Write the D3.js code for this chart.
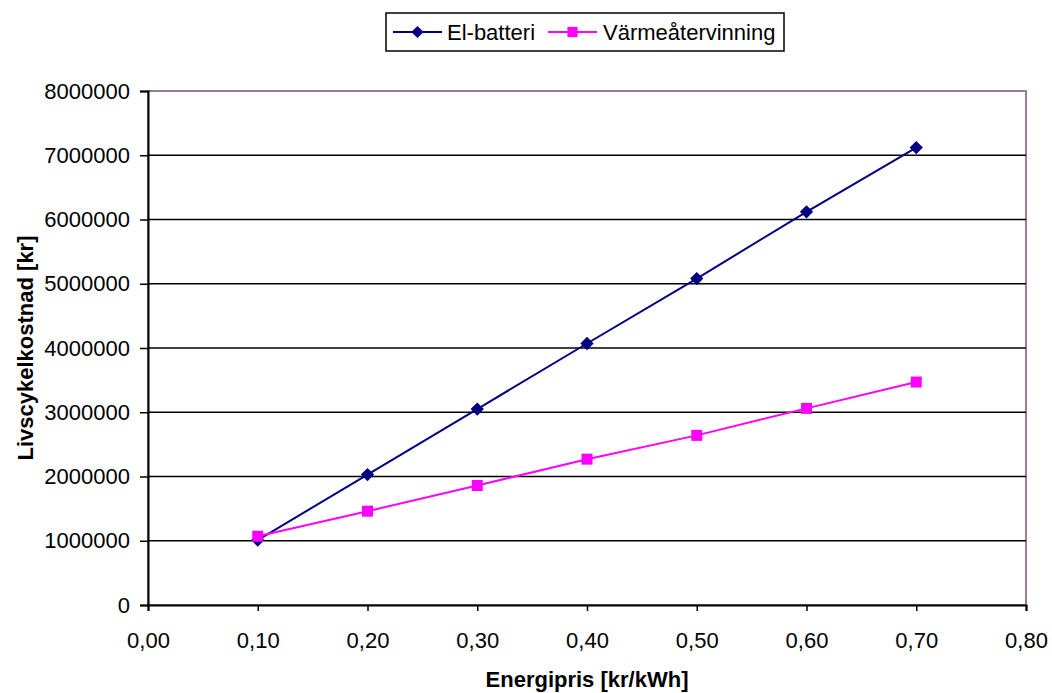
<!DOCTYPE html>
<html>
<head>
<meta charset="utf-8">
<script src="https://cdn.jsdelivr.net/npm/d3@7"></script>
<style>
  html, body { margin: 0; padding: 0; background: #fff; }
  svg text { font-family: "Liberation Sans", Arial, sans-serif; fill: #000; }
</style>
</head>
<body>
<svg id="chart" width="1052" height="693"></svg>
<script>
// Energy price (kr/kWh) along the x axis
const energyPrice = [0.10, 0.20, 0.30, 0.40, 0.50, 0.60, 0.70];
// Life-cycle cost (kr) per alternative
const elBatteri = [1010000, 2030000, 3050000, 4070000, 5080000, 6120000, 7120000];
const varmeatervinning = [1070000, 1460000, 1860000, 2270000, 2640000, 3060000, 3470000];
const seriesNames = ["El-batteri", "Värmeåtervinning"];
const xTicks = [0, 0.1, 0.2, 0.3, 0.4, 0.5, 0.6, 0.7, 0.8];
const yTicks = [0, 1000000, 2000000, 3000000, 4000000, 5000000, 6000000, 7000000, 8000000];

const svg = d3.select("#chart");
const plot = { left: 148, top: 91, right: 1026, bottom: 605 };

const x = d3.scaleLinear().domain([0, 0.8]).range([plot.left, plot.right]);
const y = d3.scaleLinear().domain([0, 8000000]).range([plot.bottom, plot.top]);

const fmtX = v => d3.format(".2f")(v).replace(".", ",");
const fmtY = d3.format("d");

// Plot-area frame
svg.append("rect")
  .attr("x", plot.left).attr("y", plot.top)
  .attr("width", plot.right - plot.left).attr("height", plot.bottom - plot.top)
  .attr("fill", "none").attr("stroke", "#9c7c9c").attr("stroke-width", 2);

// Horizontal gridlines
svg.append("g").selectAll("line")
  .data(yTicks.filter(d => d > 0 && d < 8000000))
  .join("line")
  .attr("x1", plot.left).attr("x2", plot.right)
  .attr("y1", d => y(d)).attr("y2", d => y(d))
  .attr("stroke", "#000").attr("stroke-width", 1.6);

// Y axis
const yAxis = svg.append("g")
  .attr("transform", `translate(${plot.left},0)`)
  .call(d3.axisLeft(y).tickValues(yTicks).tickFormat(fmtY).tickSize(8).tickPadding(10));
yAxis.select(".domain").attr("stroke", "#000").attr("stroke-width", 2);
yAxis.selectAll(".tick line").attr("stroke", "#000").attr("stroke-width", 1.5);
yAxis.selectAll("text").style("font-size", "22px").attr("fill", "#000");

// X axis
const xAxis = svg.append("g")
  .attr("transform", `translate(0,${plot.bottom})`)
  .call(d3.axisBottom(x).tickValues(xTicks).tickFormat(fmtX).tickSize(6).tickPadding(21));
xAxis.select(".domain").attr("stroke", "#000").attr("stroke-width", 2);
xAxis.selectAll(".tick line").attr("stroke", "#000").attr("stroke-width", 1.5);
xAxis.selectAll("text").style("font-size", "22px").attr("fill", "#000");

// Axis titles
svg.append("text")
  .attr("x", (plot.left + plot.right) / 2).attr("y", 687)
  .attr("text-anchor", "middle")
  .style("font-size", "22px").style("font-weight", "bold")
  .text("Energipris [kr/kWh]");

svg.append("text")
  .attr("transform", `translate(33,${(plot.top + plot.bottom) / 2}) rotate(-90)`)
  .attr("text-anchor", "middle")
  .style("font-size", "22px").style("font-weight", "bold")
  .text("Livscykelkostnad [kr]");

// Series: El-batteri uses a square turned 45° (a diamond of equal width and height)
const line = d3.line().x(d => x(d[0])).y(d => y(d[1]));
const series = [
  { name: seriesNames[0], values: elBatteri, color: "#000080", symbol: d3.symbolSquare, size: 88, rot: 45 },
  { name: seriesNames[1], values: varmeatervinning, color: "#ff00ff", symbol: d3.symbolSquare, size: 121, rot: 0 }
];

series.forEach(s => {
  const pts = energyPrice.map((p, i) => [p, s.values[i]]);
  svg.append("path")
    .datum(pts)
    .attr("d", line)
    .attr("fill", "none").attr("stroke", s.color).attr("stroke-width", 2);
  svg.append("g").selectAll("path")
    .data(pts)
    .join("path")
    .attr("transform", d => `translate(${x(d[0])},${y(d[1])}) rotate(${s.rot})`)
    .attr("d", d3.symbol().type(s.symbol).size(s.size))
    .attr("fill", s.color);
});

// Legend
const legend = svg.append("g");
legend.append("rect")
  .attr("x", 386).attr("y", 13).attr("width", 398).attr("height", 38)
  .attr("fill", "#fff").attr("stroke", "#000").attr("stroke-width", 1.5);
const legendItems = [
  { s: series[0], x0: 393, x1: 442, tx: 447 },
  { s: series[1], x0: 548, x1: 597, tx: 603 }
];
legendItems.forEach(it => {
  legend.append("line")
    .attr("x1", it.x0).attr("x2", it.x1).attr("y1", 32).attr("y2", 32)
    .attr("stroke", it.s.color).attr("stroke-width", 2);
  legend.append("path")
    .attr("transform", `translate(${(it.x0 + it.x1) / 2},32) rotate(${it.s.rot})`)
    .attr("d", d3.symbol().type(it.s.symbol).size(it.s.size * 0.85))
    .attr("fill", it.s.color);
  legend.append("text")
    .attr("x", it.tx).attr("y", 39.5)
    .style("font-size", "22px")
    .text(it.s.name);
});
</script>
</body>
</html>
